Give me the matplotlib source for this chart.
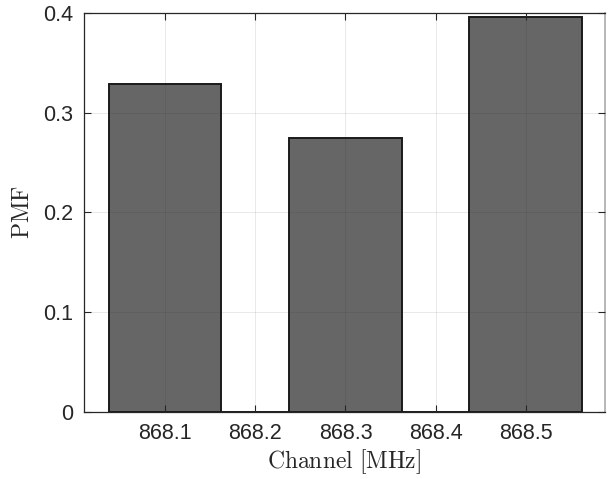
import matplotlib
matplotlib.use("Agg")
import matplotlib.pyplot as plt
import numpy as np

# Data
bin_edges = [868.0375, 868.1625, 868.2375, 868.3625, 868.4375, 868.5625]
pmf_values = [0.329, 0.0, 0.275, 0.0, 0.396]
x_ticks = [868.1, 868.2, 868.3, 868.4, 868.5]
x_tick_labels = ["868.1", "868.2", "868.3", "868.4", "868.5"]
y_ticks = [0, 0.1, 0.2, 0.3, 0.4]
y_tick_labels = ["0", "0.1", "0.2", "0.3", "0.4"]

plt.rcParams['mathtext.fontset'] = 'cm'
plt.rcParams['font.family'] = ['Liberation Sans', 'DejaVu Sans']

fig = plt.figure(figsize=(6.11, 4.79), dpi=100)
ax = fig.add_axes([0.1375, 0.1399, 0.8525, 0.833])

edges = np.array(bin_edges)
lefts = edges[:-1]
widths = np.diff(edges)
ax.bar(lefts, pmf_values, width=widths, align='edge', color='#666666',
       edgecolor='#1a1a1a', linewidth=1.4, zorder=1)

ax.set_xlim(868.0102, 868.5876)
ax.set_ylim(0, 0.4)
ax.set_xticks(x_ticks)
ax.set_xticklabels(x_tick_labels)
ax.set_yticks(y_ticks)
ax.set_yticklabels(y_tick_labels)

ax.set_axisbelow(False)
ax.grid(True, color='#262626', alpha=0.1, linewidth=0.7, zorder=3)

ax.tick_params(direction='in', length=5, width=0.8, color='#262626',
               labelsize=15.5, labelcolor='#262626', top=True, right=True, pad=8)
for s in ax.spines.values():
    s.set_color('#262626')
    s.set_linewidth(0.9)
ax.spines['right'].set_color('#aaaaaa')
ax.spines['right'].set_linewidth(1.2)

ax.set_xlabel(r'$\mathrm{Channel\ [MHz]}$', fontsize=17, color='#262626', labelpad=2)
ax.set_ylabel(r'$\mathrm{PMF}$', fontsize=17, color='#262626', labelpad=6)

fig.savefig('out.png', dpi=100)
